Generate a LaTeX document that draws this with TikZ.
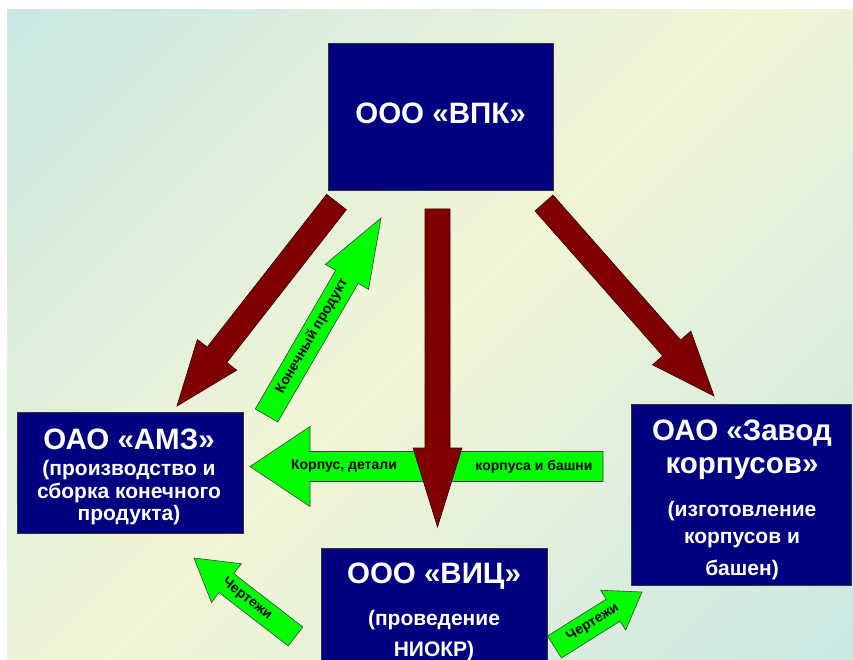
\documentclass[tikz,border=0pt]{standalone}
\usepackage{fontspec}
\setmainfont{Liberation Sans}
\usetikzlibrary{calc}
\definecolor{navybox}{RGB}{0,0,128}
\definecolor{maroonarr}{RGB}{128,0,0}
\definecolor{greenarr}{RGB}{0,255,0}
\definecolor{bgc}{RGB}{184,226,232}
\definecolor{bgy}{RGB}{242,245,214}
\pgfdeclarehorizontalshading{bgshade}{100bp}{color(0bp)=(bgc); color(50bp)=(bgy); color(100bp)=(bgc)}
\tikzset{
  box/.style={draw=black!80, line width=0.8pt, fill=navybox, inner sep=0pt},
  ttl/.style={text=white, font=\bfseries\fontsize{29.5}{30}\selectfont, anchor=base, inner sep=0pt},
  subt/.style={text=white, font=\bfseries\fontsize{21}{22}\selectfont, anchor=base, inner sep=0pt},
  redarr/.style={fill=maroonarr, draw=black!60!maroonarr, line width=0.6pt, line join=miter},
  grnarr/.style={fill=greenarr, draw=black!75, line width=0.6pt, line join=miter},
  lbl/.style={font=\bfseries\fontsize{14}{14}\selectfont, inner sep=0pt},
}
% #1 style, #2 tail coordinate, #3 tip coordinate, #4 half shaft width, #5 half head width, #6 head length
\newcommand\blockarrow[6]{%
  \draw[#1] let \p1=(#2), \p2=(#3), \n1={atan2(\y2-\y1,\x2-\x1)}, \n2={veclen(\x2-\x1,\y2-\y1)-#6}
  in ($(\p1)+(\n1+90:#4pt)$)
  -- ($(\p1)+(\n1:\n2)+(\n1+90:#4pt)$)
  -- ($(\p1)+(\n1:\n2)+(\n1+90:#5pt)$)
  -- (\p2)
  -- ($(\p1)+(\n1:\n2)+(\n1-90:#5pt)$)
  -- ($(\p1)+(\n1:\n2)+(\n1-90:#4pt)$)
  -- ($(\p1)+(\n1-90:#4pt)$) -- cycle;}
\begin{document}
\begin{tikzpicture}[x=1pt,y=-1pt]
\useasboundingbox (0,0) rectangle (853,660);
\shade[shading=bgshade, shading angle=-45] (7,10) rectangle (853,660);

% arrow end points
\coordinate (aT) at (336.5,202);  \coordinate (aP) at (177,406);
\coordinate (bT) at (437.5,209);  \coordinate (bP) at (437.5,527);
\coordinate (cT) at (544,203);    \coordinate (cP) at (714,396);
\coordinate (dT) at (266.5,415.5);\coordinate (dP) at (381,218);
\coordinate (eT) at (603,466.5);  \coordinate (eP) at (250,466.5);
\coordinate (fT) at (295.5,636.5);\coordinate (fP) at (194,558);
\coordinate (gT) at (554.5,647);  \coordinate (gP) at (642,592);

% green arrows
\blockarrow{grnarr}{dT}{dP}{13}{25}{68}
\blockarrow{grnarr}{eT}{eP}{15}{40}{60}
\blockarrow{grnarr}{fT}{fP}{12}{24.5}{41}
\blockarrow{grnarr}{gT}{gP}{13}{23.5}{34}

% red arrows
\blockarrow{redarr}{aT}{aP}{12.5}{25}{65}
\blockarrow{redarr}{bT}{bP}{12.5}{24.5}{79}
\blockarrow{redarr}{cT}{cP}{12}{25.5}{64}

% arrow labels
\node[lbl, rotate=59.9] (lkp) at (312,336) {Конечный продукт};
\node[lbl] (lkd) at (344,466.5) {Корпус, детали};
\node[lbl] (lkb) at (534,466.5) {корпуса и башни};
\node[lbl, rotate=-37.7] (lch1) at (247,599) {Чертежи};
\node[lbl, rotate=32.2] (lch2) at (593,622.5) {Чертежи};

% boxes
\node[box, minimum width=225pt, minimum height=147pt] (vpk) at (440.5,116.5) {};
\node[box, minimum width=226pt, minimum height=121pt] (amz) at (130,472.5) {};
\node[box, minimum width=220pt, minimum height=181pt] (zav) at (741,494.5) {};
\node[box, minimum width=226pt, minimum height=124pt] (vic) at (434,610) {};

% box texts
\node[ttl] (vpkT) at (440.5,124) {ООО «ВПК»};

\node[ttl] (amzT) at (129,449) {ОАО «АМЗ»};
\node[subt] (amzS1) at (129,475) {(производство и};
\node[subt] (amzS2) at (129,498) {сборка конечного};
\node[subt] (amzS3) at (129,520) {продукта)};

\node[ttl] (zavT1) at (742,440) {ОАО «Завод};
\node[ttl] (zavT2) at (742,473) {корпусов»};
\node[subt] (zavS1) at (742,516) {(изготовление};
\node[subt] (zavS2) at (742,543) {корпусов и};
\node[subt] (zavS3) at (742,575) {башен)};

\node[ttl] (vicT) at (434,583) {ООО «ВИЦ»};
\node[subt] (vicS1) at (434,625) {(проведение};
\node[subt] (vicS2) at (434,656) {НИОКР)};
\end{tikzpicture}
\end{document}
